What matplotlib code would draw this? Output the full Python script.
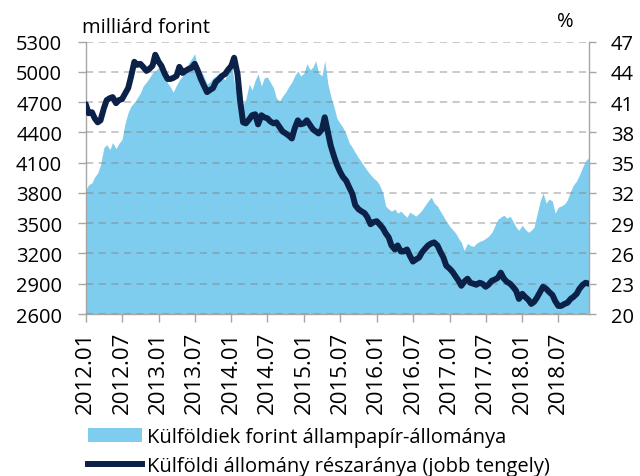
import numpy as np
import pandas as pd
import matplotlib
matplotlib.use("Agg")
import matplotlib.pyplot as plt
import matplotlib.dates as mdates
from matplotlib.patches import Patch
from matplotlib.lines import Line2D

plt.rcParams['font.family'] = ['Open Sans', 'DejaVu Sans']

# semi-monthly observations, 2012.01 - 2018.12
start_date = "2012-01-01"

# foreign holdings of forint government securities (billion HUF, left axis)
holdings = [
    3830, 3880, 3900, 3960, 4000, 4080, 4250, 4280, 4230, 4300,
    4240, 4290, 4330, 4480, 4600, 4660, 4700, 4740, 4790, 4860,
    4900, 4940, 4990, 5010, 5040, 5030, 4960, 4890, 4850, 4800,
    4870, 4920, 4960, 5020, 5090, 5130, 5180, 5060, 5010, 4960,
    4880, 4900, 4940, 4960, 4990, 4950, 4920, 5040, 5100, 4900,
    4760, 4660, 4680, 4730, 4880, 4820, 4920, 4980, 4860, 4940,
    4950, 4900, 4840, 4740, 4710, 4760, 4800, 4850, 4900, 4960,
    5010, 4960, 4990, 5080, 5020, 5050, 5110, 4990, 4960, 5110,
    4880, 4760, 4650, 4540, 4490, 4450, 4380, 4300, 4250, 4200,
    4150, 4110, 4060, 4020, 3980, 3950, 3920, 3880, 3800, 3670,
    3640, 3620, 3640, 3600, 3620, 3590, 3560, 3610, 3590, 3570,
    3600, 3630, 3680, 3720, 3760, 3700, 3670, 3620, 3570, 3520,
    3470, 3440, 3400, 3350, 3310, 3230, 3300, 3280, 3270, 3300,
    3320, 3330, 3350, 3370, 3410, 3470, 3540, 3560, 3580, 3550,
    3570, 3520, 3460, 3430, 3480, 3440, 3410, 3430, 3460, 3580,
    3720, 3800, 3700, 3740, 3720, 3600, 3660, 3670, 3690, 3730,
    3820, 3880, 3920, 3980, 4060, 4120, 4150,
]

# share of foreign holders (%, right axis)
share = [
    40.8, 39.9, 40.0, 39.4, 39.0, 39.2, 40.4, 41.2, 41.4, 41.5,
    40.9, 41.2, 41.3, 41.8, 42.4, 43.5, 45.0, 44.7, 44.8, 44.5,
    44.1, 44.3, 44.6, 45.7, 45.0, 44.6, 43.8, 43.3, 43.3, 43.4,
    43.6, 44.5, 43.9, 44.1, 44.3, 44.4, 44.8, 44.2, 43.3, 42.7,
    42.0, 42.2, 42.4, 43.0, 43.3, 43.6, 43.8, 44.2, 44.6, 45.4,
    43.8, 41.0, 39.0, 38.9, 39.3, 39.7, 39.8, 38.8, 39.7, 39.5,
    39.4, 39.1, 38.9, 39.0, 38.5, 38.1, 37.9, 37.7, 37.4, 38.4,
    39.2, 38.8, 38.9, 39.2, 38.7, 38.3, 38.1, 37.9, 38.3, 39.5,
    38.0, 36.7, 35.6, 34.8, 34.1, 33.6, 33.2, 32.6, 31.9, 30.8,
    30.4, 30.2, 30.0, 29.6, 28.9, 29.1, 29.2, 28.9, 28.5, 28.0,
    27.6, 26.8, 26.4, 26.8, 26.2, 26.2, 26.4, 25.8, 25.2, 25.4,
    25.6, 26.1, 26.5, 26.8, 27.0, 27.1, 26.8, 26.2, 25.6, 24.8,
    24.5, 24.2, 23.7, 23.3, 22.8, 23.2, 23.5, 23.1, 23.0, 22.9,
    23.1, 23.0, 22.7, 22.9, 23.3, 23.4, 23.6, 24.1, 23.5, 23.2,
    23.0, 22.7, 22.3, 21.5, 22.0, 21.7, 21.4, 21.0, 21.2, 21.6,
    22.2, 22.7, 22.5, 22.2, 21.9, 21.3, 20.8, 20.8, 21.0, 21.1,
    21.5, 21.7, 22.0, 22.5, 22.9, 23.1, 23.0,
]

left_ticks = [2600, 2900, 3200, 3500, 3800, 4100, 4400, 4700, 5000, 5300]
right_ticks = [20, 23, 26, 29, 32, 35, 38, 41, 44, 47]

label_area = "Külföldiek forint állampapír-állománya"
label_line = "Külföldi állomány részaránya (jobb tengely)"

dates = pd.date_range(start_date, periods=len(holdings), freq="SMS")

AREA = "#7ECDEE"
NAVY = "#0C2147"
AXIS = "#A6A6A6"

fig = plt.figure(figsize=(6.4, 4.77), dpi=100)
ax = fig.add_axes([0.134, 0.3396, 0.786, 0.571])
ax2 = ax.twinx()

ax.fill_between(dates, left_ticks[0], holdings, color=AREA, linewidth=0, zorder=1)
ax2.plot(dates, share, color=NAVY, linewidth=4.3, solid_capstyle="round",
         solid_joinstyle="round", zorder=3)

ax.set_xlim(dates[0], dates[-1])
ax.set_ylim(left_ticks[0], left_ticks[-1])
ax2.set_ylim(right_ticks[0], right_ticks[-1])
ax.set_yticks(left_ticks)
ax2.set_yticks(right_ticks)

# dashed grid drawn over the area, under the line
ax.set_axisbelow(False)
ax.yaxis.grid(True, linestyle=(0, (4, 3)), color="#7F7F7F", alpha=0.45, linewidth=1.3)
ax.xaxis.grid(False)

ax.xaxis.set_major_locator(mdates.MonthLocator(bymonth=[1, 7]))
ax.xaxis.set_major_formatter(mdates.DateFormatter("%Y.%m"))

ax.tick_params(axis="x", direction="out", length=6, width=1, color=AXIS,
               labelsize=16, pad=6)
ax.tick_params(axis="y", direction="out", length=6, width=1, color=AXIS,
               labelsize=14.5, pad=11)
ax2.tick_params(axis="y", direction="out", length=5, width=1, color=AXIS,
                labelsize=14.5, pad=11)
for lbl in ax.get_xticklabels():
    lbl.set_rotation(90)
    lbl.set_horizontalalignment("center")

for s in ["top", "right"]:
    ax.spines[s].set_visible(False)
for s in ["top", "left", "bottom"]:
    ax2.spines[s].set_visible(False)
for sp in [ax.spines["left"], ax.spines["bottom"], ax2.spines["right"]]:
    sp.set_color(AXIS)
    sp.set_linewidth(1)

fig.text(0.128, 0.941, "milliárd forint", fontsize=14.5, va="center", ha="left")
fig.text(0.884, 0.953, "%", fontsize=14.5, va="center", ha="center")

handles = [
    Patch(facecolor=AREA, edgecolor="none"),
    Line2D([0], [0], color=NAVY, linewidth=4.3),
]
fig.legend(handles, [label_area, label_line], loc="upper left",
           bbox_to_anchor=(0.1375, 0.102), frameon=False, borderpad=0,
           borderaxespad=0, handlelength=2.7, handletextpad=0.25,
           labelspacing=0.45, fontsize=14.5)

fig.savefig("out.png", dpi=100)
